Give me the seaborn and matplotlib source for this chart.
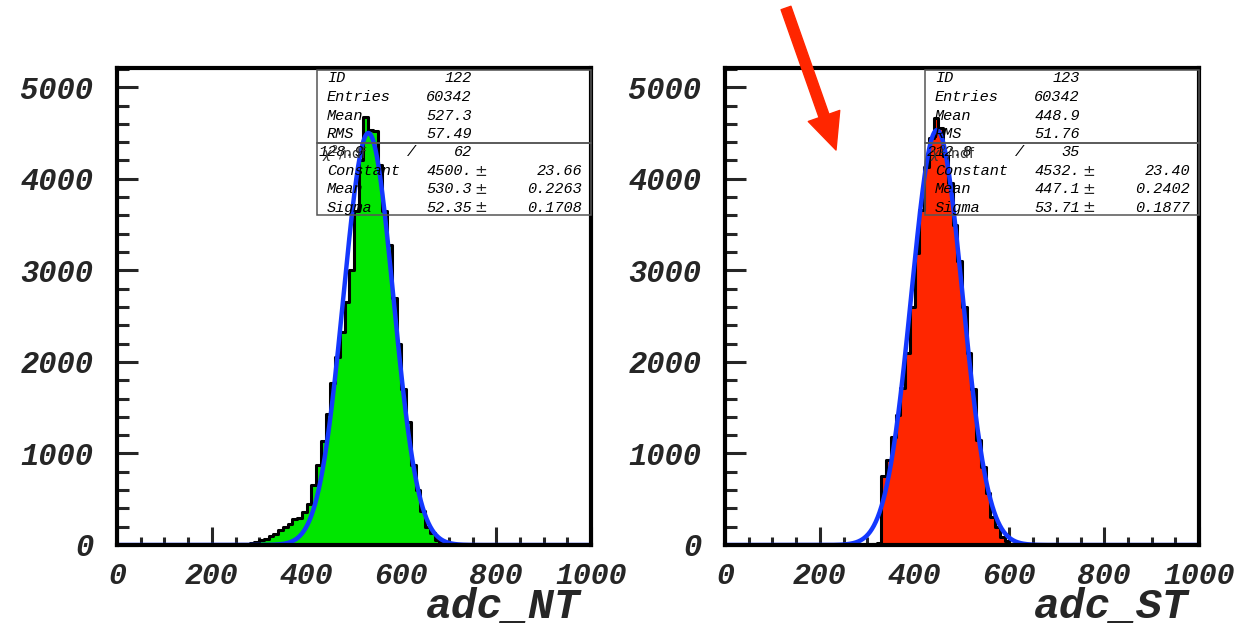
import numpy as np
import pandas as pd
import matplotlib
matplotlib.use("Agg")
import matplotlib.pyplot as plt
import seaborn as sns
from matplotlib.patches import FancyArrowPatch, ArrowStyle, Rectangle
from matplotlib.ticker import MultipleLocator

# ---------------- data ----------------
bin_edges = list(range(0, 1010, 10))

# NT histogram: counts per 10-unit bin, keyed by bin lower edge
nt_edges = [250, 260, 270, 280, 290, 300, 310, 320, 330, 340, 350, 360, 370, 380, 390,
            400, 410, 420, 430, 440, 450, 460, 470, 480, 490, 500, 510, 520, 530, 540,
            550, 560, 570, 580, 590, 600, 610, 620, 630, 640, 650, 660, 670, 680, 690, 700]
nt_counts = [3, 8, 15, 25, 38, 55, 70, 95, 125, 160, 200, 230, 280, 300, 360,
             450, 660, 870, 1140, 1430, 1770, 2050, 2330, 2650, 3000, 3650, 4200, 4670, 4530, 4520,
             4150, 3650, 3280, 2700, 2200, 1700, 1340, 870, 600, 370, 200, 130, 60, 30, 12, 5]

st_edges = [300, 310, 320, 330, 340, 350, 360, 370, 380, 390, 400, 410, 420, 430, 440,
            450, 460, 470, 480, 490, 500, 510, 520, 530, 540, 550, 560, 570, 580, 590, 600, 610]
st_counts = [5, 10, 20, 750, 930, 1180, 1420, 1710, 2100, 2600, 3190, 3660, 4130, 4450, 4660,
             4560, 4250, 3950, 3500, 3100, 2600, 2100, 1700, 1150, 850, 570, 310, 200, 90, 40, 15, 5]

# stat box contents
nt_stats = {"ID": "122", "Entries": "60342", "Mean": "527.3", "RMS": "57.49"}
st_stats = {"ID": "123", "Entries": "60342", "Mean": "448.9", "RMS": "51.76"}
nt_chi2, nt_ndf = "128.9", "62"
st_chi2, st_ndf = "212.8", "35"
nt_fit = [("Constant", 4500.0, "4500.", "23.66"), ("Mean", 530.3, "530.3", "0.2263"),
          ("Sigma", 52.35, "52.35", "0.1708")]
st_fit = [("Constant", 4532.0, "4532.", "23.40"), ("Mean", 447.1, "447.1", "0.2402"),
          ("Sigma", 53.71, "53.71", "0.1877")]

x_labels = ["adc_NT", "adc_ST"]
y_ticks = [0, 1000, 2000, 3000, 4000, 5000]
x_ticks = [0, 200, 400, 600, 800, 1000]

GREEN = "#00e600"
RED = "#ff2600"
BLUE = "#1438ff"

# ---------------- figure ----------------
sns.set_theme(style="white")
plt.rcParams["font.family"] = ["Liberation Mono", "DejaVu Sans"]

W, H = 1241, 626
fig = plt.figure(figsize=(W / 100, H / 100), dpi=100)
fig.patch.set_facecolor("white")


def px_axes(x0, x1, ytop, ybot):
    return fig.add_axes([x0 / W, 1 - ybot / H, (x1 - x0) / W, (ybot - ytop) / H])


axL = px_axes(117, 591, 68, 545)
axR = px_axes(725, 1199, 68, 545)


def full_counts(edges, counts):
    d = dict(zip(edges, counts))
    return [d.get(e, 0) for e in bin_edges[:-1]]


def draw(ax, edges, counts, color, fit, stats, chi2, ndf, xlabel):
    centers = [e + 5 for e in bin_edges[:-1]]
    df = pd.DataFrame({"x": centers, "w": full_counts(edges, counts)})
    sns.histplot(data=df, x="x", weights="w", bins=bin_edges, element="step", fill=True,
                 color=color, edgecolor="black", linewidth=2.2, alpha=1, ax=ax, zorder=2)
    A, mu, sg = fit[0][1], fit[1][1], fit[2][1]
    xs = np.linspace(0, 1000, 1001)
    fd = pd.DataFrame({"x": xs, "y": A * np.exp(-0.5 * ((xs - mu) / sg) ** 2)})
    sns.lineplot(data=fd, x="x", y="y", color=BLUE, linewidth=3.2, ax=ax, zorder=3)

    ax.set_xlim(0, 1000)
    ax.set_ylim(0, 5210)
    ax.set_xlabel("")
    ax.set_ylabel("")
    ax.set_xticks(x_ticks)
    ax.set_yticks(y_ticks)
    ax.xaxis.set_minor_locator(MultipleLocator(50))
    ax.yaxis.set_minor_locator(MultipleLocator(200))
    ax.tick_params(axis="x", which="major", direction="in", length=13, width=2.2,
                   bottom=True, top=False, pad=12, labelsize=21.5)
    ax.tick_params(axis="x", which="minor", direction="in", length=6, width=2.2,
                   bottom=True, top=False)
    ax.tick_params(axis="y", which="major", direction="in", length=15, width=2.2,
                   left=True, right=False, pad=17, labelsize=22)
    ax.tick_params(axis="y", which="minor", direction="in", length=8.5, width=2.2,
                   left=True, right=False)
    for lab in ax.get_xticklabels() + ax.get_yticklabels():
        lab.set_fontweight("bold")
        lab.set_fontstyle("italic")
    for sp in ax.spines.values():
        sp.set_linewidth(3)
        sp.set_color("black")
        sp.set_zorder(4)

    # x label
    ax.text(0.977, -0.153, xlabel, transform=ax.transAxes, ha="right", va="baseline",
            fontsize=31, fontweight="bold", fontstyle="italic", family="Liberation Mono")

    # stat box
    def ay(py):
        return (545 - py) / 477

    bx0 = 0.422
    box_kw = dict(transform=ax.transAxes, fill=False, edgecolor="#555555", linewidth=1.1,
                  zorder=5, clip_on=False)
    ax.add_patch(Rectangle((bx0, ay(143)), 1 - bx0, ay(70) - ay(143), **box_kw))
    ax.add_patch(Rectangle((bx0, ay(215)), 1 - bx0, ay(143) - ay(215), **box_kw))

    tkw = dict(transform=ax.transAxes, fontsize=11, fontstyle="italic",
               family="Liberation Mono", va="center", zorder=6, color="black")
    lx, vx, pmx, ex = 0.443, 0.749, 0.768, 0.981
    rows = [78, 97, 116, 134]
    for (k, v), py in zip(stats.items(), rows):
        ax.text(lx, ay(py), k, ha="left", **tkw)
        ax.text(vx, ay(py), v, ha="right", **tkw)
    # chi2 row (overlapping text as in the original)
    ax.text(0.425, ay(152), chi2, ha="left", **tkw)
    ax.text(0.432, ay(154), r"$\chi^2$/ndf", ha="left", transform=ax.transAxes, fontsize=10,
            family="DejaVu Sans", va="center", zorder=6, color="#333333")
    ax.text(0.622, ay(152), "/", ha="center", **tkw)
    ax.text(vx, ay(152), ndf, ha="right", **tkw)
    for (name, _, vtxt, etxt), py in zip(fit, [171, 189, 208]):
        ax.text(lx, ay(py), name, ha="left", **tkw)
        ax.text(vx, ay(py), vtxt, ha="right", **tkw)
        ax.text(pmx, ay(py), "\u00b1", ha="center", transform=ax.transAxes, fontsize=11,
                family="DejaVu Sans", va="center", zorder=6)
        ax.text(ex, ay(py), etxt, ha="right", **tkw)


draw(axL, nt_edges, nt_counts, GREEN, nt_fit, nt_stats, nt_chi2, nt_ndf, x_labels[0])
draw(axR, st_edges, st_counts, RED, st_fit, st_stats, st_chi2, st_ndf, x_labels[1])

# red arrow
arrow = FancyArrowPatch((786 / W, 1 - 8 / H), (836 / W, 1 - 150 / H),
                        transform=fig.transFigure,
                        arrowstyle=ArrowStyle.Simple(head_length=26, head_width=24, tail_width=7.5),
                        mutation_scale=1, color=RED, shrinkA=0, shrinkB=0, zorder=10)
fig.add_artist(arrow)

fig.savefig("out.png", dpi=100, facecolor="white")
